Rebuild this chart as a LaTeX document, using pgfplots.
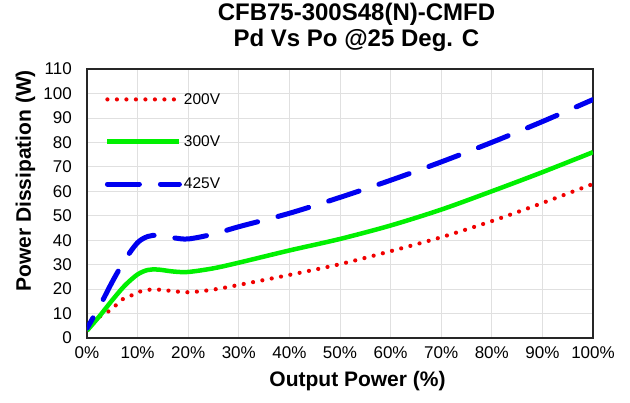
\documentclass[border=0pt]{standalone}
\usepackage{pgfplots}
\pgfplotsset{compat=1.18}
\usepackage{fontspec}
\setmainfont{Liberation Sans}
\definecolor{cred}{RGB}{240,0,0}
\definecolor{cgreen}{RGB}{0,240,0}
\definecolor{cblue}{RGB}{0,0,240}
\begin{document}
\begin{tikzpicture}
\begin{axis}[
  at={(0,0)}, anchor=south west,
  scale only axis,
  width=506pt, height=269pt,
  xmin=0, xmax=100, ymin=0, ymax=110,
  xtick={0,10,...,100}, ytick={0,10,...,110},
  xticklabel={\pgfmathprintnumber{\tick}\%},
  /pgf/number format/assume math mode=true,
  tick style={draw=none},
  ticklabel style={font=\fontsize{17}{19}\selectfont, inner sep=0pt},
  xticklabel style={yshift=-8pt},
  yticklabel style={xshift=-15pt},
  grid=major,
  major grid style={draw=black!12, line width=0.8pt},
  axis line style={line width=2pt, black!85},
  xlabel={\textbf{Output Power (\%)}},
  ylabel={\textbf{Power Dissipation (W)}},
  label style={font=\fontsize{21}{23}\selectfont, inner sep=0pt},
  xlabel style={at={(axis description cs:0.5346,0)}, anchor=base, yshift=-49pt},
  ylabel style={at={(axis description cs:-0.1107,0.584)}, anchor=base, rotate=0},
  title={\textbf{CFB75-300S48(N)-CMFD}\\\textbf{Pd Vs Po @25 Deg. C}},
  title style={font=\fontsize{24}{26}\selectfont, align=center, at={(axis description cs:0.5326,1)}, anchor=south, inner sep=0pt, yshift=11pt},
  legend style={at={(axis description cs:0.035,0.918)}, anchor=north west, draw=none, fill=none,
    font=\fontsize{15.5}{17}\selectfont, row sep=26pt, inner sep=0pt},
  legend cell align=left,
  legend image code/.code={\draw[#1] (0pt,0pt) -- (72pt,0pt);},
]
\addplot[cred, line width=4.2pt, line cap=round, dash pattern=on 0pt off 9.5pt, smooth] coordinates {
(0,3.5)(1.5,7.5)(4,10.5)(5.5,13)(7,15.8)(9,17.6)(10.5,19)(12,19.7)(14,19.8)(16,19.4)(20,18.7)(25,19.8)(30,21.7)(40,25.8)(50,30.2)(60,35.5)(70,41.2)(80,47.8)(90,55.2)(100,63)};
\addlegendentry{200V}
\addplot[cgreen, line width=4.5pt, smooth] coordinates {
(0,3)(2.5,9)(5,15.5)(7.5,21.5)(10,26)(12,27.8)(14,28)(17,27.2)(20,27)(25,28.5)(30,30.8)(40,35.8)(50,40.5)(60,46)(70,52.5)(80,60)(90,67.8)(100,76)};
\addlegendentry{300V}
\addplot[cblue, line width=5pt, line cap=round, dash pattern=on 32pt off 21pt, dash phase=20pt, smooth, legend image post style={dash phase=0pt}] coordinates {
(0,4)(2.5,13)(5,23)(7.5,32)(10,39)(12,41.5)(14,42)(17,41)(20,40.5)(25,42.5)(30,45.5)(40,51)(50,57.5)(60,64.5)(70,72)(80,80)(90,88.5)(100,97.5)};
\addlegendentry{425V}
\end{axis}
\pgfresetboundingbox
\path[use as bounding box] (-87pt,-65pt) rectangle (543pt,338pt);
\end{tikzpicture}
\end{document}
